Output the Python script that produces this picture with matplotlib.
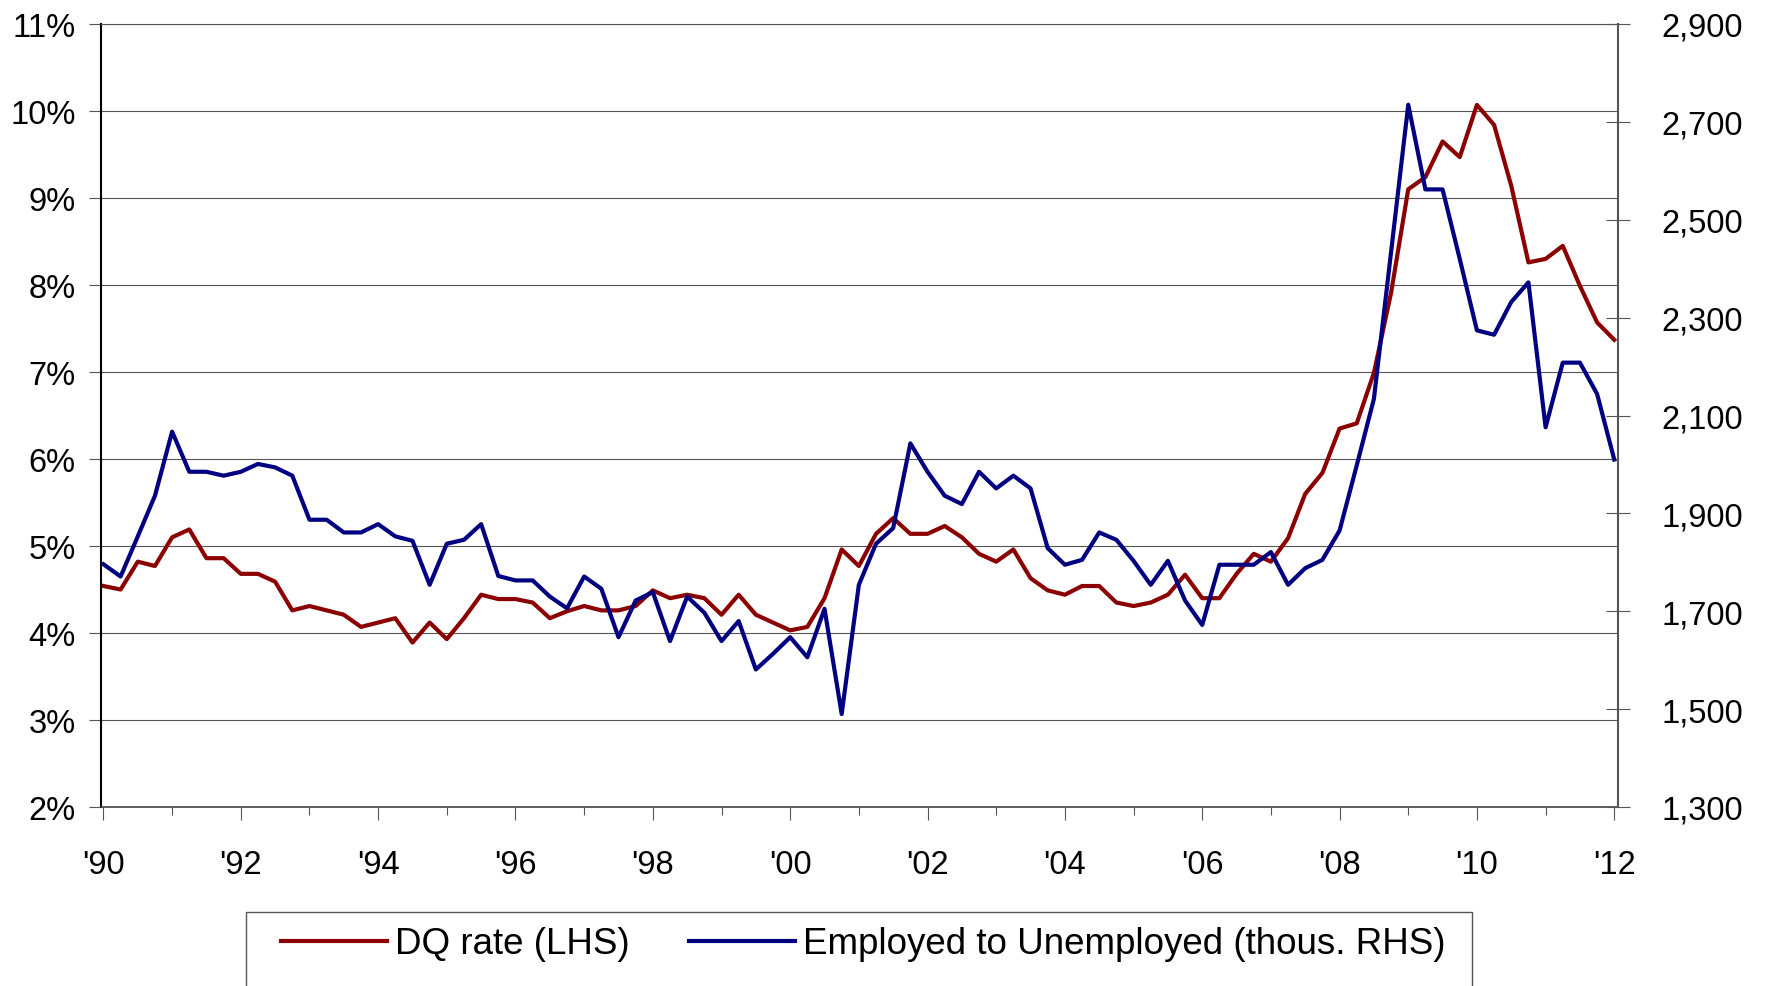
import matplotlib
matplotlib.use('Agg')
import matplotlib.pyplot as plt
from matplotlib.ticker import FuncFormatter
from matplotlib.patches import Rectangle

plt.rcParams['font.family'] = ['Liberation Sans', 'DejaVu Sans']

# quarterly data, 1990Q1 .. 2012Q1
start_year = 1990
dq_rate = [
    4.54, 4.50, 4.82, 4.77, 5.10, 5.19, 4.86, 4.86, 4.68, 4.68,
    4.59, 4.26, 4.31, 4.26, 4.21, 4.07, 4.12, 4.17, 3.89, 4.12,
    3.93, 4.17, 4.44, 4.39, 4.39, 4.35, 4.17, 4.25, 4.31, 4.26,
    4.26, 4.31, 4.49, 4.40, 4.44, 4.40, 4.21, 4.44, 4.21, 4.12,
    4.03, 4.07, 4.40, 4.96, 4.77, 5.14, 5.32, 5.14, 5.14, 5.23,
    5.10, 4.91, 4.82, 4.96, 4.63, 4.49, 4.44, 4.54, 4.54, 4.35,
    4.31, 4.35, 4.44, 4.67, 4.40, 4.40, 4.68, 4.91, 4.82, 5.09,
    5.60, 5.84, 6.35, 6.41, 6.99, 7.91, 9.10, 9.24, 9.65, 9.47,
    10.07, 9.84, 9.14, 8.26, 8.30, 8.45, 7.99, 7.57, 7.37,
]
emp_to_unemp = [
    1796, 1771, 1853, 1936, 2067, 1985, 1985, 1977, 1985, 2001,
    1994, 1977, 1887, 1887, 1861, 1861, 1878, 1853, 1844, 1754,
    1838, 1846, 1878, 1772, 1763, 1763, 1730, 1706, 1771, 1746,
    1647, 1722, 1739, 1639, 1730, 1697, 1639, 1680, 1581, 1613,
    1647, 1606, 1705, 1490, 1754, 1838, 1870, 2043, 1985, 1936,
    1919, 1985, 1951, 1977, 1951, 1829, 1795, 1805, 1861, 1846,
    1803, 1754, 1803, 1722, 1672, 1795, 1795, 1795, 1821, 1754,
    1788, 1805, 1865, 1998, 2134, 2434, 2735, 2562, 2562, 2420,
    2274, 2265, 2332, 2372, 2076, 2208, 2208, 2144, 2010,
]
left_ticks = list(range(2, 12))
right_ticks = list(range(1300, 3000, 200))
year_ticks = list(range(1990, 2013, 2))

quarters = [start_year + i / 4 for i in range(len(dq_rate))]

W, H = 1769, 987
fig = plt.figure(figsize=(W / 100, H / 100), dpi=100)
ax = fig.add_axes([100.7 / W, 1 - 808 / H, (1617.7 - 100.7) / W, (808 - 25) / H])

l1, = ax.plot(quarters, dq_rate, color='#8B0000', lw=3.0, label='DQ rate (LHS)')
ax2 = ax.twinx()
l2, = ax2.plot(quarters, emp_to_unemp, color='#000080', lw=3.0,
               label='Employed to Unemployed (thous. RHS)')

ax.set_xlim(1989.96, 2012.05)
ax.set_ylim(2, 11)
ax2.set_ylim(1300, 2900)
ax.set_yticks(left_ticks)
ax2.set_yticks(right_ticks)
ax.yaxis.set_major_formatter(FuncFormatter(lambda v, p: f'{v:.0f}%'))
ax2.yaxis.set_major_formatter(FuncFormatter(lambda v, p: f'{v:,.0f}'))
ax.set_xticks(year_ticks)
ax.set_xticklabels([f"'{y % 100:02d}" for y in year_ticks])
ax.set_xticks(range(1991, 2012, 2), minor=True)

ax.grid(axis='y', color='#555555', lw=0.8)
ax.set_axisbelow(True)

ax.tick_params(axis='y', direction='out', length=8.6, width=0.8, color='#555555',
               pad=9.5, labelsize=23.5)
ax.tick_params(axis='x', which='major', direction='out', length=9.4, width=0.8,
               color='#555555', pad=20.5, labelsize=23.5)
ax.tick_params(axis='x', which='minor', direction='out', length=5.5, width=0.8,
               color='#555555')
ax2.tick_params(axis='y', direction='inout', length=17, width=0.8, color='#555555',
                pad=23, labelsize=23.5)

ax.spines['right'].set_visible(False)
ax.spines['top'].set_color('#555555')
ax.spines['top'].set_linewidth(0.8)
ax.spines['left'].set_color('black')
ax.spines['left'].set_linewidth(1.5)
ax.spines['bottom'].set_color('#444444')
ax.spines['bottom'].set_linewidth(1.2)
for s in ['left', 'top', 'bottom']:
    ax2.spines[s].set_visible(False)
ax2.spines['right'].set_color('#555555')
ax2.spines['right'].set_linewidth(1.5)

# legend box (bottom edge falls off the image, as in the original)
fig.add_artist(Rectangle((246 / W, -0.05), (1472 - 246) / W, 0.05 + (987 - 912.7) / H,
                         transform=fig.transFigure, fill=False,
                         edgecolor='#555555', lw=1.0))
fig.legend(handles=[l1, l2], loc='center left',
           bbox_to_anchor=(280.7 / W, 1 - 945 / H), ncol=2, frameon=False,
           borderpad=0, borderaxespad=0, handlelength=2.9, handletextpad=0.21,
           columnspacing=1.6, fontsize=26.5)

fig.savefig('out.png', dpi=100)
